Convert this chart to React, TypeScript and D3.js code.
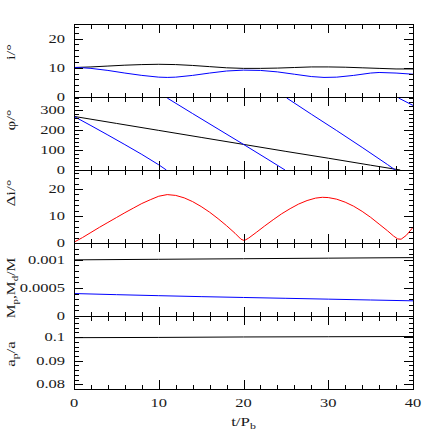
import React from 'react'
import * as d3 from 'd3'

// t / P_b
const xTicks = [0, 10, 20, 30, 40]

// i (deg), outer binary orbit (black) and planet (blue)
const incBinary: [number, number][] = [[0, 10.1], [2, 10.3], [4, 10.6], [6, 10.9], [8, 11.1], [10, 11.2], [12, 11.1], [14, 10.8], [16, 10.4], [18, 10.0], [20, 9.8], [22, 9.8], [24, 9.9], [26, 10.1], [28, 10.3], [30, 10.3], [32, 10.2], [34, 10.0], [36, 9.8], [38, 9.6], [40, 9.6]]
const incPlanet: [number, number][] = [[0, 10.1], [1, 10.0], [2, 9.8], [4, 9.1], [6, 8.2], [8, 7.4], [10, 6.8], [11, 6.7], [12, 6.8], [14, 7.4], [16, 8.2], [18, 8.9], [20, 9.2], [22, 9.1], [24, 8.6], [26, 7.8], [28, 7.0], [29.5, 6.7], [31, 6.8], [33, 7.4], [35, 8.2], [36, 8.4], [38, 8.2], [40, 7.8]]

// phi (deg)
const phiBinary: [number, number][] = [[0, 268], [5, 233], [10, 198], [15, 163], [20, 128], [25, 93], [30, 59], [35, 24], [38.5, 0]]
const phiPlanet: [number, number][][] = [
  [[0, 268], [2, 222], [4, 175], [6, 127], [8, 78], [10, 26], [10.9, 0]],
  [[11, 360], [14, 282], [17, 205], [20, 128], [23, 50], [24.9, 0]],
  [[25.1, 360], [28, 279], [31, 197], [34, 113], [37, 27], [37.9, 0]],
  [[38.3, 360], [40, 323]],
]

// mutual inclination (deg)
const deltaInc: [number, number][] = [[0, 0.3], [1, 2.0], [2, 3.9], [3, 5.8], [4, 7.6], [5, 9.4], [6, 11.2], [7, 12.9], [8, 14.6], [9, 16.0], [10, 17.3], [11, 17.9], [12, 17.6], [13, 16.7], [14, 15.3], [15, 13.5], [16, 11.4], [17, 9.0], [18, 6.4], [19, 3.6], [19.7, 1.4], [20.1, 0.9], [20.6, 1.8], [21.5, 3.9], [22.5, 6.3], [23.5, 8.6], [24.5, 10.8], [25.5, 12.7], [26.5, 14.4], [27.5, 15.7], [28.5, 16.6], [29.3, 16.9], [30, 16.8], [31, 16.2], [32, 15.1], [33, 13.6], [34, 11.7], [35, 9.5], [36, 7.0], [37, 4.5], [37.7, 2.6], [38.2, 1.5], [38.6, 1.4], [39.2, 2.8], [40, 5.8]]

// masses / M
const massPlanet: [number, number][] = [[0, 0.001], [10, 0.00101], [20, 0.00102], [30, 0.00103], [40, 0.00104]]
const massDisc: [number, number][] = [[0, 0.0004], [5, 0.00038], [10, 0.000362], [15, 0.000345], [20, 0.00033], [25, 0.000315], [30, 0.0003], [35, 0.000285], [40, 0.00027]]

// a_p / a
const sepPlanet: [number, number][] = [[0, 0.0998], [10, 0.0999], [20, 0.1001], [30, 0.1002], [40, 0.1003]]

const left = 74
const right = 413
const top = 24
const panelH = 73
const font = 'Liberation Serif'
const tickSize = 12.5
const tickScale = 1.32
const labelSize = 13
const labelScale = 1.3
const ink = '#1a1a1a'

const x = d3.scaleLinear().domain([0, 40]).range([left, right])

const panels = [
  { domain: [0, 25], ticks: [0, 10, 20], minor: 2, fmt: (d: number) => String(d), labelY: 52, labelSize: 13,
    label: <>i/°</>,
    series: [{ segs: [incBinary], color: '#000' }, { segs: [incPlanet], color: '#0000ff' }] },
  { domain: [0, 365], ticks: [0, 100, 200, 300], minor: 20, fmt: (d: number) => String(d), labelY: 120, labelSize: 13,
    label: <>φ/°</>,
    series: [{ segs: [phiBinary], color: '#000' }, { segs: phiPlanet, color: '#0000ff' }] },
  { domain: [0, 27], ticks: [0, 10, 20], minor: 2, fmt: (d: number) => String(d), labelY: 193, labelSize: 13,
    label: <>Δi/°</>,
    series: [{ segs: [deltaInc], color: '#ff0000' }] },
  { domain: [0, 0.0013], ticks: [0, 0.0005, 0.001], minor: 0.0001, fmt: (d: number) => (d === 0 ? '0' : String(d)), labelY: 288, labelSize: 12,
    label: <>M<tspan dy={3} fontSize="0.7em">p</tspan><tspan dy={-3}>,M</tspan><tspan dy={3} fontSize="0.7em">d</tspan><tspan dy={-3}>/M</tspan></>,
    series: [{ segs: [massPlanet], color: '#000' }, { segs: [massDisc], color: '#0000ff' }] },
  { domain: [0.078, 0.109], ticks: [0.08, 0.09, 0.1], minor: 0.002, fmt: (d: number) => String(d), labelY: 354, labelSize: 13,
    label: <>a<tspan dy={3} fontSize="0.7em">p</tspan><tspan dy={-3}>/a</tspan></>,
    series: [{ segs: [sepPlanet], color: '#000' }] },
]

function Panel({ p, i }: { p: any; i: number }) {
  const y0 = top + i * panelH
  const y = d3.scaleLinear().domain(p.domain).range([y0 + panelH, y0])
  const line = d3.line<[number, number]>().x(d => x(d[0])).y(d => y(d[1]))
  const [lo, hi] = p.domain
  const minorY = d3.range(Math.ceil(lo / p.minor - 1e-6), Math.floor(hi / p.minor + 1e-6) + 1).map(k => k * p.minor)
  const isMajorY = (v: number) => p.ticks.some((t: number) => Math.abs(t - v) < p.minor / 10)
  const minorX = d3.range(0, 41, 2)
  return (
    <g>
      <g clipPath={`url(#clip${i})`}>
        {p.series.map((s: any, si: number) =>
          s.segs.map((seg: [number, number][], k: number) => (
            <path key={`${si}-${k}`} d={line(seg) || ''} fill="none" stroke={s.color} strokeWidth={1} />
          ))
        )}
      </g>
      <g stroke="#000" strokeWidth={1} shapeRendering="crispEdges">
        {minorY.map((v, k) => {
          const len = isMajorY(v) ? 9 : 4.5
          const yy = Math.round(y(v)) + 0.5
          return (
            <g key={k}>
              <line x1={left} x2={left + len} y1={yy} y2={yy} />
              <line x1={right} x2={right - len} y1={yy} y2={yy} />
            </g>
          )
        })}
        {minorX.map(v => {
          const len = v % 10 === 0 ? 9 : 4.5
          const xx = Math.round(x(v)) + 0.5
          return (
            <g key={v}>
              <line x1={xx} x2={xx} y1={y0} y2={y0 + len} />
              <line x1={xx} x2={xx} y1={y0 + panelH} y2={y0 + panelH - len} />
            </g>
          )
        })}
        <rect x={left + 0.5} y={y0 + 0.5} width={right - left} height={panelH} fill="none" />
      </g>
      {p.ticks.map((t: number) => (
        <g key={t} transform={`translate(65,${y(t) + 4.2}) scale(${tickScale},1)`}>
          <text textAnchor="end" fontFamily={font} fontSize={tickSize} fill={ink}>{p.fmt(t)}</text>
        </g>
      ))}
      <g transform={`translate(15,${p.labelY}) rotate(-90) scale(${labelScale},1)`}>
        <text textAnchor="middle" fontFamily={font} fontSize={p.labelSize} fill={ink}>{p.label}</text>
      </g>
    </g>
  )
}

export default function App() {
  const bottom = top + panelH * panels.length
  return (
    <svg width={436} height={436} style={{ position: 'absolute', left: 0, top: 0, background: '#fff' }}>
      <defs>
        {panels.map((p, i) => (
          <clipPath id={`clip${i}`} key={i}>
            <rect x={left} y={top + i * panelH} width={right - left} height={panelH} />
          </clipPath>
        ))}
      </defs>
      {panels.map((p, i) => <Panel key={i} p={p} i={i} />)}
      {xTicks.map(t => (
        <g key={t} transform={`translate(${x(t)},${bottom + 18}) scale(${tickScale},1)`}>
          <text textAnchor="middle" fontFamily={font} fontSize={tickSize} fill={ink}>{t}</text>
        </g>
      ))}
      <g transform={`translate(${(left + right) / 2},${bottom + 37}) scale(${labelScale},1)`}>
        <text textAnchor="middle" fontFamily={font} fontSize={labelSize} fill={ink}>t/P<tspan dy={3} fontSize="0.7em">b</tspan></text>
      </g>
    </svg>
  )
}
